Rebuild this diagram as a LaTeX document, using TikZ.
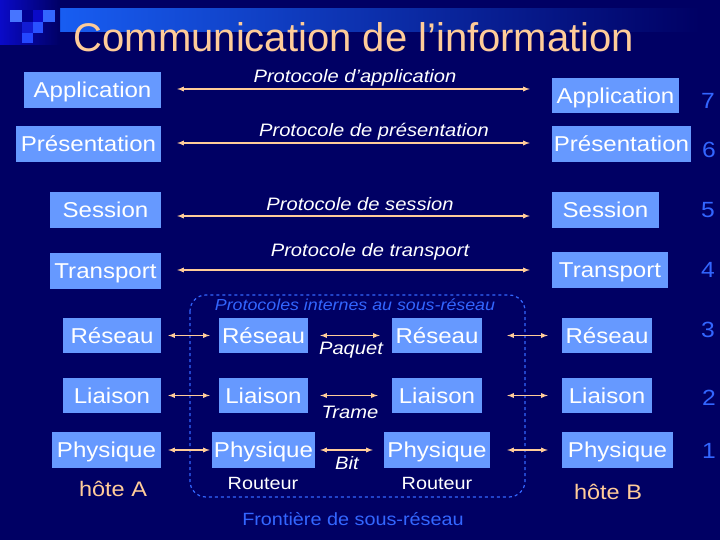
\documentclass[tikz,border=0pt]{standalone}
\usepackage{fontspec}
\setmainfont[FakeStretch=1.12]{Liberation Sans}
\newfontfamily\titrefont{Liberation Sans}
\usetikzlibrary{calc}
\definecolor{fond}{RGB}{0,0,100}
\definecolor{boite}{RGB}{102,153,255}
\definecolor{fleche}{RGB}{255,204,153}
\definecolor{chiffre}{RGB}{51,102,255}
\definecolor{barre}{RGB}{26,102,255}
\definecolor{coin}{RGB}{10,10,200}
\tikzset{
  couche/.style={fill=boite, text=white, inner sep=0pt, minimum height=36pt,
    text height=15.4pt, text depth=0pt, font=\fontsize{21.5}{25}\selectfont},
  lien/.style={fleche, line width=1.3pt, latex-latex},
  haut/.style={lien, shorten <=16pt, shorten >=22pt},
  proto/.style={text=white, inner sep=0pt, font=\fontsize{18}{21}\selectfont\itshape},
  num/.style={text=chiffre, font=\fontsize{22}{26}\selectfont},
  hote/.style={text=fleche, font=\fontsize{21}{24}\selectfont},
  routeur/.style={text=white, font=\fontsize{17.7}{21}\selectfont},
}
\begin{document}
\begin{tikzpicture}[x=1pt, y=-1pt]
    % fond et bandeau du titre
    \fill[fond] (0,0) rectangle (720,540);
    \useasboundingbox (0,0) rectangle (720,540);
    \shade[left color=barre, middle color=barre!75!fond, right color=fond] (0,9) rectangle (700,32);
    \shade[left color=coin, right color=fond] (0,0) rectangle (60,45);
    \fill[chiffre!90!white] (10,10) rectangle (22,22);
    \fill[fond!70!blue] (22,10) rectangle (33,22);
    \fill[coin] (33,10) rectangle (43,22);
    \fill[chiffre] (43,10) rectangle (55,22);
    \fill[coin!80!chiffre] (22,22) rectangle (33,33);
    \fill[chiffre!80!blue] (33,22) rectangle (43,33);
    \fill[chiffre!70!blue] (22,33) rectangle (33,43);
    \node[text=fleche, font=\titrefont\fontsize{40}{46}\selectfont] (titre) at (354,37) {Communication de l’information};

    % hote A
    \node[couche, minimum width=137pt] (appA) at (92.5,90) {Application};
    \node[couche, minimum width=145pt] (preA) at (88.5,144) {Présentation};
    \node[couche, minimum width=111pt] (sesA) at (105.5,210) {Session};
    \node[couche, minimum width=111pt] (traA) at (105.5,271) {Transport};
    \node[couche, minimum width=98pt, minimum height=35pt] (resA) at (112,335.5) {Réseau};
    \node[couche, minimum width=98pt, minimum height=35pt] (liaA) at (112,395.5) {Liaison};
    \node[couche, minimum width=109pt] (phyA) at (106.5,450) {Physique};
    \node[hote] (hoteA) at (113,489) {hôte A};

    % hote B
    \node[couche, minimum width=127pt, minimum height=35pt] (appB) at (615.5,95.5) {Application};
    \node[couche, minimum width=139pt] (preB) at (621.5,144) {Présentation};
    \node[couche, minimum width=107pt] (sesB) at (605.5,210) {Session};
    \node[couche, minimum width=116pt] (traB) at (610,270) {Transport};
    \node[couche, minimum width=90pt, minimum height=35pt] (resB) at (607,335.5) {Réseau};
    \node[couche, minimum width=90pt, minimum height=35pt] (liaB) at (607,395.5) {Liaison};
    \node[couche, minimum width=111pt] (phyB) at (617.5,450) {Physique};
    \node[hote] (hoteB) at (608,492) {hôte B};

    % routeurs
    \node[couche, minimum width=89pt, minimum height=35pt] (resR) at (263.5,335.5) {Réseau};
    \node[couche, minimum width=89pt, minimum height=35pt] (liaR) at (263.5,395.5) {Liaison};
    \node[couche, minimum width=103pt] (phyR) at (263.5,450) {Physique};
    \node[routeur] (routR) at (263,483) {Routeur};
    \node[couche, minimum width=90pt, minimum height=35pt] (resS) at (437,335.5) {Réseau};
    \node[couche, minimum width=90pt, minimum height=35pt] (liaS) at (437,395.5) {Liaison};
    \node[couche, minimum width=106pt] (phyS) at (437,450) {Physique};
    \node[routeur] (routS) at (437,483) {Routeur};

    % numeros des couches
    \node[num] (n7) at (708,101) {7};
    \node[num] (n6) at (709,150) {6};
    \node[num] (n5) at (708,210) {5};
    \node[num] (n4) at (708,270) {4};
    \node[num] (n3) at (708,330) {3};
    \node[num] (n2) at (709,398) {2};
    \node[num] (n1) at (709,451) {1};

    % protocoles de bout en bout
    \draw[haut] ($(appA.east)+(0,-1)$) -- ($(appA.east -| appB.west)+(0,-1)$);
    \node[proto] (papp) at (355,78) {Protocole d’application};
    \draw[haut] ($(preA.east)+(0,-1)$) -- ($(preA.east -| preB.west)+(0,-1)$);
    \node[proto] (ppre) at (374,132) {Protocole de présentation};
    \draw[haut] ($(sesA.east)+(0,6)$) -- ($(sesA.east -| sesB.west)+(0,6)$);
    \node[proto] (pses) at (360,204) {Protocole de session};
    \draw[haut] ($(traA.east)+(0,-1)$) -- ($(traA.east -| traB.west)+(0,-1)$);
    \node[proto] (ptra) at (370,252) {Protocole de transport};

    % sous-reseau
    \draw[chiffre, dashed, line width=1.2pt, rounded corners=16pt] (190,295) rectangle (525,497);
    \node[text=chiffre, font=\fontsize{15.9}{19}\selectfont\itshape] (interne) at (355,305) {Protocoles internes au sous-réseau};
    \node[text=chiffre, font=\fontsize{17.7}{21}\selectfont] (frontiere) at (353,519) {Frontière de sous-réseau};

    \draw[lien, shorten <=7pt, shorten >=9pt] (resA) -- (resR);
    \draw[lien, shorten <=7pt, shorten >=9pt] (liaA) -- (liaR);
    \draw[lien, shorten <=7pt, shorten >=2pt] (phyA) -- (phyR);
    \draw[lien, shorten <=12pt, shorten >=12pt] (resR) -- (resS);
    \draw[lien, shorten <=12pt, shorten >=14pt] (liaR) -- (liaS);
    \draw[lien, shorten <=5pt, shorten >=11pt] (phyR) -- (phyS);
    \draw[lien, shorten <=25pt, shorten >=14pt] (resS) -- (resB);
    \draw[lien, shorten <=25pt, shorten >=14pt] (liaS) -- (liaB);
    \draw[lien, shorten <=17pt, shorten >=14pt] (phyS) -- (phyB);
    \node[proto] (paquet) at (351,350) {Paquet};
    \node[proto] (trame) at (350,412) {Trame};
    \node[proto] (bit) at (347,463) {Bit};
\end{tikzpicture}
\end{document}
